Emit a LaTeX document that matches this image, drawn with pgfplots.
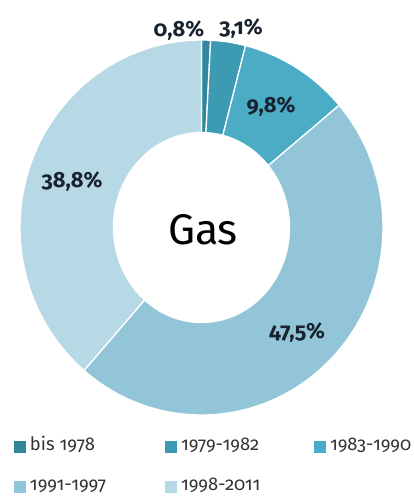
\documentclass[border=0pt]{standalone}
\usepackage{fontspec}
\setmainfont{Fira Sans}[Numbers={OldStyle,Proportional}]
\usepackage{pgfplots}
\usepackage{pgfplotstable}
\pgfplotsset{compat=1.18}
\definecolor{c1}{HTML}{31859C}
\definecolor{c2}{HTML}{3C9AB3}
\definecolor{c3}{HTML}{4BACC6}
\definecolor{c4}{HTML}{92C5D7}
\definecolor{c5}{HTML}{B7D8E5}
\definecolor{lbl}{HTML}{17222E}
\definecolor{legtxt}{HTML}{333333}
\pgfplotstableread{
share color
0.8 c1
3.1 c2
9.8 c3
47.5 c4
38.8 c5
}\gasdata
\begin{document}
\begin{tikzpicture}
\begin{axis}[
  scale only axis, width=414bp, height=498bp,
  xmin=0, xmax=414, ymin=0, ymax=498, enlargelimits=false,
  axis lines=none, clip=false,
  legend columns=3,
  legend cell align=left,
  legend image code/.code={\fill[#1] (0bp,-6bp) rectangle (12bp,6bp);},
  legend style={at={(axis cs:14,31)}, anchor=west, draw=none, fill=none,
    font=\fontsize{18.5}{20}\selectfont\color{legtxt},
    inner sep=0pt, outer sep=0pt, column sep=0pt, row sep=25bp,
    nodes={inner sep=0pt, outer sep=0pt, text height=11bp, text depth=4bp}},
  /tikz/every odd column/.append style={column sep=4bp},
  /tikz/every even column/.append style={column sep=0bp},
]
\addlegendimage{fill=c1, draw=none}\addlegendentry{\makebox[135bp][l]{bis 1978}}
\addlegendimage{fill=c2, draw=none}\addlegendentry{\makebox[133bp][l]{1979-1982}}
\addlegendimage{fill=c3, draw=none}\addlegendentry{\makebox[70bp][l]{1983-1990}}
\addlegendimage{fill=c4, draw=none}\addlegendentry{\makebox[135bp][l]{1991-1997}}
\addlegendimage{fill=c5, draw=none}\addlegendentry{\makebox[133bp][l]{1998-2011}}
\pgfplotstablegetrowsof{\gasdata}
\pgfmathtruncatemacro\nrows{\pgfplotsretval-1}
\def\cum{0}
\pgfplotsforeachungrouped \i in {0,...,\nrows}{%
  \pgfplotstablegetelem{\i}{share}\of\gasdata \let\val\pgfplotsretval
  \pgfplotstablegetelem{\i}{color}\of\gasdata \let\col\pgfplotsretval
  \pgfmathsetmacro\aS{90-3.6*\cum}%
  \pgfmathsetmacro\aE{90-3.6*(\cum+\val)}%
  \pgfmathsetmacro\cum{\cum+\val}%
  \edef\temp{\noexpand\fill[\col, draw=white, line width=1.3bp]
     (axis cs:{201.5+181.5*cos(\aS)},{270.5+187.5*sin(\aS)})
     arc[start angle=\aS, end angle=\aE, x radius=181.5bp, y radius=187.5bp]
     -- (axis cs:{201.5+88*cos(\aE)},{270.5+95*sin(\aE)})
     arc[start angle=\aE, end angle=\aS, x radius=88bp, y radius=95bp] -- cycle;}%
  \temp
}
\begin{scope}[every node/.style={font=\fontsize{22}{24}\selectfont\bfseries, text=lbl, inner sep=0pt}]
\node at (axis cs:179,467) {0,8\%};
\node at (axis cs:241,469) {3,1\%};
\node at (axis cs:271,391) {9,8\%};
\node at (axis cs:72,316) {38,8\%};
\node at (axis cs:297,165) {47,5\%};
\end{scope}
\node[font=\fontsize{43}{45}\selectfont, inner sep=0pt] at (axis cs:203,268) {Gas};
\end{axis}
\pgfresetboundingbox
\useasboundingbox (current axis.south west) rectangle (current axis.north east);
\end{tikzpicture}
\end{document}
